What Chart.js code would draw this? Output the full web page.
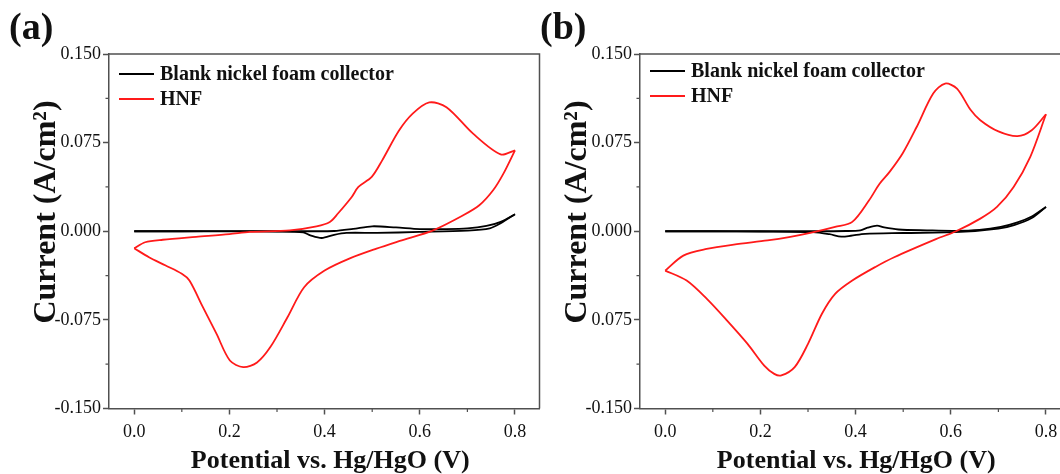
<!DOCTYPE html>
<html>
<head>
<meta charset="utf-8">
<title>CV curves</title>
<script src="https://cdn.jsdelivr.net/npm/chart.js@4.4.1/dist/chart.umd.min.js"></script>
<style>
    body { margin: 0; width: 1060px; height: 474px; overflow: hidden; position: relative; background: #fff; }
    canvas { position: absolute; top: 0; }
</style>
</head>
<body>
<canvas id="panelA" width="545" height="474" style="left:0"></canvas>
<canvas id="panelB" width="545" height="474" style="left:531px"></canvas>
<script>
// axis ticks
const xTicks = [0, 0.2, 0.4, 0.6, 0.8];
const xTickLabels = ['0.0', '0.2', '0.4', '0.6', '0.8'];
const xMinorTicks = [0.1, 0.3, 0.5, 0.7];
const yTicks = [-0.15, -0.075, 0, 0.075, 0.15];
const yTickLabelsA = ['-0.150', '-0.075', '0.000', '0.075', '0.150'];
const yTickLabelsB = ['-0.150', '0.075', '0.000', '0.075', '0.150'];
const yMinorTicks = [-0.1125, -0.0375, 0.0375, 0.1125];
const seriesNames = ['Blank nickel foam collector', 'HNF'];

// panel (a) - potential (V) / current (A/cm2), forward and reverse sweep
const aBlankFwdV = [0, 0.1, 0.2, 0.3, 0.36, 0.42, 0.46, 0.5, 0.55, 0.6, 0.65, 0.7, 0.74, 0.77, 0.8];
const aBlankFwdI = [0, 0, 0.0001, 0, 0, 0.0002, 0.002, 0.0042, 0.0032, 0.0018, 0.0018, 0.0024, 0.0045, 0.008, 0.0144];
const aBlankRevV = [0.8, 0.77, 0.747, 0.7, 0.6, 0.51, 0.446, 0.42, 0.394, 0.37, 0.355, 0.3, 0.2, 0.1, 0];
const aBlankRevI = [0.0144, 0.0068, 0.0025, 0.0006, -0.0006, -0.0014, -0.0014, -0.003, -0.0057, -0.0035, -0.001, -0.0003, -0.0001, 0, 0];
const aHnfFwdV = [0, 0.023, 0.06, 0.13, 0.2, 0.243, 0.327, 0.383, 0.411, 0.428, 0.457, 0.471, 0.499, 0.521, 0.556, 0.585, 0.62, 0.656, 0.712, 0.77, 0.8];
const aHnfFwdI = [-0.0144, -0.0093, -0.0072, -0.0048, -0.0025, -0.0006, 0.0008, 0.0042, 0.0079, 0.015, 0.029, 0.0375, 0.046, 0.06, 0.085, 0.0995, 0.109, 0.105, 0.0826, 0.065, 0.0685];
const aHnfRevV = [0.8, 0.776, 0.754, 0.725, 0.691, 0.628, 0.558, 0.509, 0.453, 0.4, 0.357, 0.322, 0.286, 0.258, 0.229, 0.201, 0.173, 0.144, 0.116, 0.1, 0.066, 0.031, 0];
const aHnfRevI = [0.0685, 0.049, 0.0347, 0.022, 0.0135, 0.0008, -0.0082, -0.0147, -0.023, -0.0333, -0.0474, -0.0728, -0.098, -0.111, -0.115, -0.1094, -0.0869, -0.064, -0.0417, -0.036, -0.029, -0.022, -0.0144];

// panel (b)
const bBlankFwdV = [0, 0.1, 0.2, 0.3, 0.38, 0.41, 0.425, 0.445, 0.46, 0.49, 0.55, 0.607, 0.66, 0.705, 0.74, 0.77, 0.8];
const bBlankFwdI = [0, 0, 0, 0, 0.0002, 0.0008, 0.003, 0.0048, 0.0032, 0.0015, 0.0008, 0.0004, 0.0012, 0.0037, 0.0075, 0.0125, 0.0206];
const bBlankRevV = [0.8, 0.77, 0.733, 0.7, 0.62, 0.5, 0.42, 0.39, 0.37, 0.345, 0.31, 0.2, 0.1, 0];
const bBlankRevI = [0.0206, 0.0112, 0.0052, 0.0022, -0.0006, -0.0015, -0.0022, -0.0038, -0.0045, -0.0025, -0.0008, -0.0002, 0, 0];
const bHnfFwdV = [0, 0.038, 0.087, 0.144, 0.215, 0.26, 0.307, 0.357, 0.393, 0.428, 0.45, 0.471, 0.499, 0.528, 0.563, 0.588, 0.613, 0.641, 0.662, 0.7, 0.74, 0.77, 0.8];
const bHnfFwdI = [-0.0333, -0.0206, -0.015, -0.0113, -0.0078, -0.005, -0.0012, 0.0037, 0.0079, 0.026, 0.04, 0.05, 0.066, 0.088, 0.1165, 0.125, 0.1207, 0.103, 0.094, 0.0845, 0.0805, 0.0855, 0.099];
const bHnfRevV = [0.8, 0.767, 0.732, 0.697, 0.662, 0.611, 0.57, 0.481, 0.4425, 0.393, 0.357, 0.329, 0.3, 0.272, 0.244, 0.229, 0.208, 0.173, 0.13, 0.087, 0.045, 0];
const bHnfRevI = [0.099, 0.063, 0.0375, 0.0206, 0.0107, 0, -0.0065, -0.022, -0.03, -0.0417, -0.053, -0.07, -0.0953, -0.115, -0.122, -0.1207, -0.1137, -0.0953, -0.0756, -0.057, -0.0417, -0.0333];

const AXIS = '#505050';
const TEXT = '#111';
const SERIF = '"Liberation Serif", "Times New Roman", serif';
const lineColors = ['#000000', '#ff1a1a'];

function toPoints(v, i) {
    return v.map((x, k) => ({ x: x, y: i[k] }));
}

function sweep(v, i, color) {
    return {
        data: toPoints(v, i),
        borderColor: color,
        borderWidth: 1.8,
        pointRadius: 0,
        tension: 0.3,
        fill: false
    };
}

// box, minor ticks, legend, axis titles and panel letter
const cvDecor = {
    id: 'cvDecor',
    afterDraw(chart, args, opts) {
        const { ctx, chartArea: a, scales: { x, y } } = chart;
        ctx.save();
        ctx.strokeStyle = AXIS;
        ctx.lineWidth = 1.5;
        ctx.beginPath();
        ctx.moveTo(a.left, a.top);
        ctx.lineTo(a.right, a.top);
        ctx.lineTo(a.right, a.bottom);
        ctx.stroke();

        ctx.lineWidth = 1.2;
        ctx.beginPath();
        xMinorTicks.forEach(v => {
            const px = x.getPixelForValue(v);
            ctx.moveTo(px, a.bottom);
            ctx.lineTo(px, a.bottom + 3.5);
        });
        yMinorTicks.forEach(v => {
            const py = y.getPixelForValue(v);
            ctx.moveTo(a.left, py);
            ctx.lineTo(a.left - 3.5, py);
        });
        ctx.stroke();

        // legend
        ctx.font = 'bold 20px ' + SERIF;
        ctx.textAlign = 'left';
        ctx.textBaseline = 'middle';
        seriesNames.forEach((name, k) => {
            const ly = opts.legendY + k * 25;
            ctx.strokeStyle = lineColors[k];
            ctx.lineWidth = 2;
            ctx.beginPath();
            ctx.moveTo(a.left + 10, ly);
            ctx.lineTo(a.left + 45, ly);
            ctx.stroke();
            ctx.fillStyle = TEXT;
            ctx.fillText(name, a.left + 51, ly + 1);
        });

        ctx.fillStyle = TEXT;
        ctx.textBaseline = 'alphabetic';
        ctx.textAlign = 'center';
        ctx.font = 'bold 26px ' + SERIF;
        ctx.fillText('Potential vs. Hg/HgO (V)', (a.left + a.right) / 2 + opts.titleShift, 468);

        ctx.save();
        ctx.translate(55, 212);
        ctx.rotate(-Math.PI / 2);
        ctx.font = 'bold 32px ' + SERIF;
        ctx.fillText('Current (A/cm\u00B2)', 0, 0);
        ctx.restore();

        ctx.textAlign = 'left';
        ctx.font = 'bold 38px ' + SERIF;
        ctx.fillText(opts.label, 9, 39);
        ctx.restore();
    }
};

function makePanel(canvasId, sets, yLabels, decor) {
    const ctx = document.getElementById(canvasId).getContext('2d');
    return new Chart(ctx, {
        type: 'line',
        data: {
            datasets: [
                sweep(sets.hnfFwdV, sets.hnfFwdI, lineColors[1]),
                sweep(sets.hnfRevV, sets.hnfRevI, lineColors[1]),
                sweep(sets.blankFwdV, sets.blankFwdI, lineColors[0]),
                sweep(sets.blankRevV, sets.blankRevI, lineColors[0])
            ]
        },
        options: {
            responsive: false,
            animation: false,
            devicePixelRatio: 1,
            layout: { padding: { top: 54, right: 5.5, left: 0, bottom: 0 } },
            plugins: {
                legend: { display: false },
                tooltip: { enabled: false },
                cvDecor: decor
            },
            scales: {
                x: {
                    type: 'linear',
                    min: -0.053,
                    max: 0.8515,
                    afterBuildTicks: s => { s.ticks = xTicks.map(v => ({ value: v })); },
                    afterFit: s => { s.height = 65.5; },
                    grid: { drawOnChartArea: false, drawTicks: true, tickLength: 6, color: AXIS, tickWidth: 1.5 },
                    border: { display: true, color: AXIS, width: 1.5 },
                    ticks: {
                        autoSkip: false,
                        maxRotation: 0,
                        padding: 7,
                        color: TEXT,
                        font: { family: SERIF, size: 18 },
                        callback: (v, i) => xTickLabels[i]
                    }
                },
                y: {
                    type: 'linear',
                    min: -0.15,
                    max: 0.15,
                    afterBuildTicks: s => { s.ticks = yTicks.map(v => ({ value: v })); },
                    afterFit: s => { s.width = 109; },
                    grid: { drawOnChartArea: false, drawTicks: true, tickLength: 6, color: AXIS, tickWidth: 1.5 },
                    border: { display: true, color: AXIS, width: 1.5 },
                    ticks: {
                        autoSkip: false,
                        padding: 2,
                        color: TEXT,
                        font: { family: SERIF, size: 18 },
                        callback: (v, i) => yLabels[i]
                    }
                }
            }
        },
        plugins: [cvDecor]
    });
}

makePanel('panelA', {
    blankFwdV: aBlankFwdV, blankFwdI: aBlankFwdI, blankRevV: aBlankRevV, blankRevI: aBlankRevI,
    hnfFwdV: aHnfFwdV, hnfFwdI: aHnfFwdI, hnfRevV: aHnfRevV, hnfRevI: aHnfRevI
}, yTickLabelsA, { label: '(a)', legendY: 74, titleShift: 6 });

makePanel('panelB', {
    blankFwdV: bBlankFwdV, blankFwdI: bBlankFwdI, blankRevV: bBlankRevV, blankRevI: bBlankRevI,
    hnfFwdV: bHnfFwdV, hnfFwdI: bHnfFwdI, hnfRevV: bHnfRevV, hnfRevI: bHnfRevI
}, yTickLabelsB, { label: '(b)', legendY: 71, titleShift: 1 });
</script>
</body>
</html>
